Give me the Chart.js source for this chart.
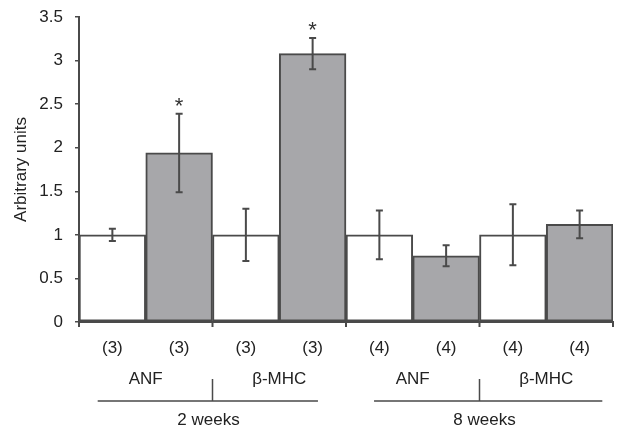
<!DOCTYPE html>
<html>
<head>
<meta charset="utf-8">
<script src="https://cdn.jsdelivr.net/npm/chart.js@4.4.1/dist/chart.umd.min.js"></script>
<style>
  html, body { margin: 0; padding: 0; background: #fff; }
  #wrap { width: 626px; height: 437px; position: relative; }
</style>
</head>
<body>
<div id="wrap"><canvas id="chart" width="626" height="437"></canvas></div>
<script>
// data
const nLabels = ['(3)', '(3)', '(3)', '(3)', '(4)', '(4)', '(4)', '(4)'];
const values = [1.0, 1.94, 1.0, 3.08, 1.0, 0.76, 1.0, 1.12];
const errors = [0.07, 0.45, 0.30, 0.18, 0.28, 0.12, 0.35, 0.16];
const treated = [false, true, false, true, false, true, false, true];
const significant = [false, true, false, true, false, false, false, false];
const markers = ['ANF', 'β-MHC', 'ANF', 'β-MHC'];   // one per pair of bars
const periods = ['2 weeks', '8 weeks'];             // one per four bars
const yTicks = [0, 0.5, 1, 1.5, 2, 2.5, 3, 3.5];

const INK = '#4a4a4a';
const TXT = '#222';
const FONT = '"Liberation Sans", Arial, sans-serif';

// error bars, asterisks, x tick marks and the group labels below the axis
const extras = {
  id: 'extras',
  afterDatasetsDraw(chart) {
    const {ctx, scales: {x, y}} = chart;
    const w = x.getPixelForValue(1) - x.getPixelForValue(0);
    ctx.save();
    ctx.strokeStyle = INK;
    ctx.lineWidth = 2;
    values.forEach((v, i) => {
      const cx = x.getPixelForValue(i);
      const top = y.getPixelForValue(v + errors[i]);
      const bot = y.getPixelForValue(v - errors[i]);
      ctx.beginPath();
      ctx.moveTo(cx, top); ctx.lineTo(cx, bot);
      ctx.moveTo(cx - 3.5, top); ctx.lineTo(cx + 3.5, top);
      ctx.moveTo(cx - 3.5, bot); ctx.lineTo(cx + 3.5, bot);
      ctx.stroke();
      if (significant[i]) {
        ctx.fillStyle = '#333';
        ctx.font = '22px ' + FONT;
        ctx.textAlign = 'center';
        ctx.textBaseline = 'alphabetic';
        ctx.fillText('*', cx, top - 1);
      }
    });
    // tick marks at every second bar boundary
    const y0 = y.getPixelForValue(0);
    for (let i = 0; i <= values.length; i += 2) {
      const bx = x.getPixelForValue(0) - w / 2 + i * w;
      ctx.beginPath();
      ctx.moveTo(bx, y0); ctx.lineTo(bx, y0 + 5);
      ctx.stroke();
    }
    ctx.restore();
  },
  afterDraw(chart) {
    const {ctx, scales: {x}} = chart;
    const w = x.getPixelForValue(1) - x.getPixelForValue(0);
    const left = x.getPixelForValue(0) - w / 2;
    ctx.save();
    ctx.fillStyle = TXT;
    ctx.strokeStyle = INK;
    ctx.lineWidth = 1.5;
    ctx.font = '17px ' + FONT;
    ctx.textAlign = 'center';
    ctx.textBaseline = 'middle';
    markers.forEach((m, k) => {
      ctx.fillText(m, left + (2 * k + 1) * w, 379);
    });
    periods.forEach((p, k) => {
      const start = left + k * 4 * w;
      const mid = start + 2 * w;
      ctx.beginPath();
      ctx.moveTo(start + (k ? 0.42 : 0.28) * w, 401);
      ctx.lineTo(start + (k ? 3.84 : 3.58) * w, 401);
      ctx.moveTo(mid, 379); ctx.lineTo(mid, 401);
      ctx.stroke();
      ctx.fillText(p, mid + (k ? 5 : -4), 420);
    });
    ctx.restore();
  }
};

new Chart(document.getElementById('chart'), {
  type: 'bar',
  data: {
    labels: nLabels,
    datasets: [{
      data: values,
      backgroundColor: treated.map(t => t ? '#a7a7aa' : '#ffffff'),
      borderColor: INK,
      borderWidth: 2,
      borderSkipped: false,
      barPercentage: 1,
      categoryPercentage: 1
    }]
  },
  options: {
    responsive: false,
    animation: false,
    layout: { padding: { top: 17, right: 13, left: 0, bottom: 0 } },
    plugins: { legend: { display: false }, tooltip: { enabled: false } },
    scales: {
      x: {
        grid: { display: false, drawTicks: false },
        border: { color: INK, width: 2 },
        ticks: { color: TXT, font: { family: FONT, size: 17 }, padding: 16 },
        afterFit(scale) { scale.height = 115; }
      },
      y: {
        min: 0, max: 3.5,
        afterBuildTicks(scale) { scale.ticks = yTicks.map(v => ({ value: v })); },
        grid: { display: true, drawOnChartArea: false, drawTicks: true, tickLength: 4, color: INK, lineWidth: 1.5 },
        border: { color: INK, width: 2 },
        ticks: { color: TXT, font: { family: FONT, size: 17 }, padding: 12, callback: v => String(v) },
        title: { display: true, text: 'Arbitrary units', color: TXT, font: { family: FONT, size: 17 }, padding: { top: 11, bottom: 0 } },
        afterFit(scale) { scale.width = 79; scale.paddingTop = 0; scale.paddingBottom = 0; }
      }
    }
  },
  plugins: [extras]
});
</script>
</body>
</html>
